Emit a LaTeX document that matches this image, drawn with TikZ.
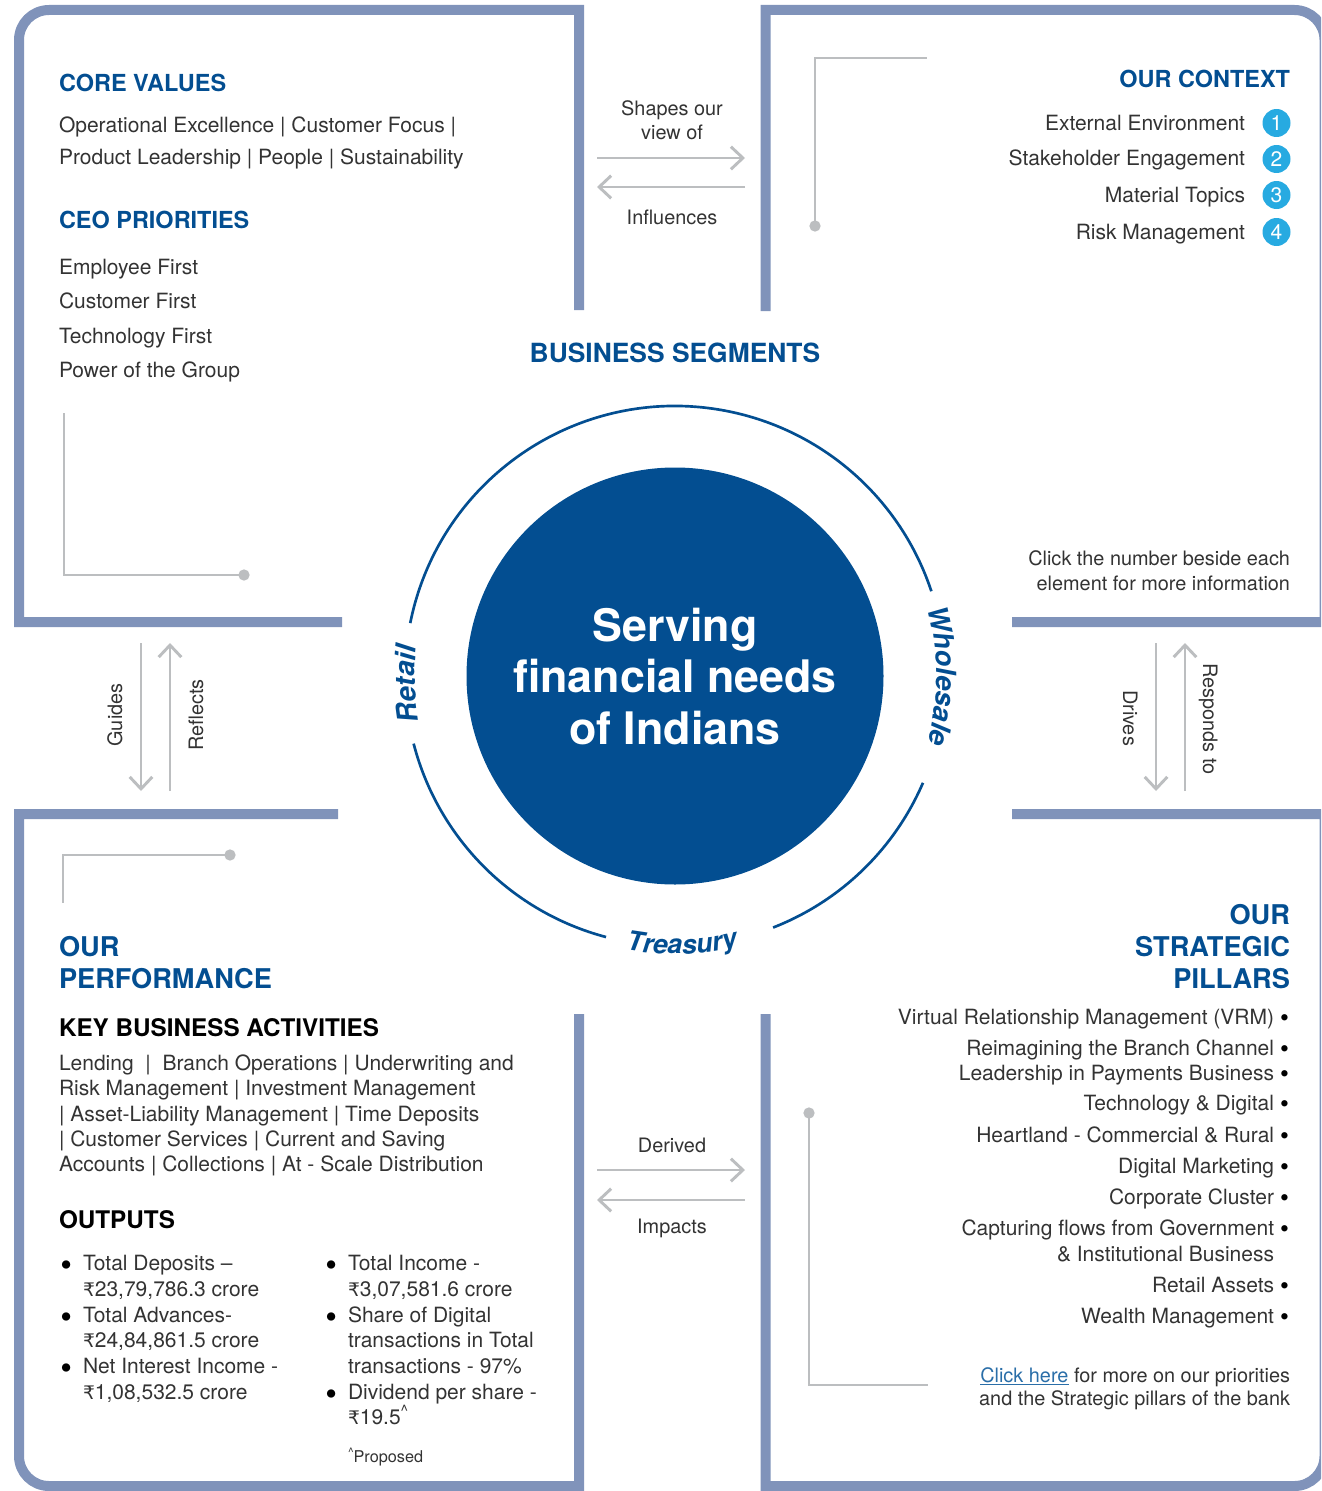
\documentclass[tikz,border=0pt]{standalone}
\usepackage{fontspec}
\setmainfont{TeX Gyre Heros}
\newfontfamily\rupeefamily{DejaVu Sans}
\usetikzlibrary{arrows.meta,decorations.text}
\definecolor{framec}{HTML}{8093BA}
\definecolor{bluec}{HTML}{034E91}
\definecolor{bodyc}{HTML}{333333}
\definecolor{greyc}{HTML}{BCBEC0}
\definecolor{badgec}{HTML}{27AAE1}
\definecolor{linkc}{HTML}{2A6EA8}
\newcommand{\rs}{{\rupeefamily\fontsize{14}{14}\selectfont ₹}}
\newcommand{\rb}{\makebox[11.2pt][r]{\textcolor{black}{\fontsize{19}{19}\selectfont\raisebox{-1.6pt}{•}}}}
\newcommand{\lb}[1]{\llap{\makebox[#1][l]{\textcolor{black}{\fontsize{25}{25}\selectfont\raisebox{-5pt}{•}}}}}
\newcommand{\bodyfont}{\fontsize{15.75}{19}\selectfont}
\newcommand{\smallfont}{\fontsize{14.9}{19}\selectfont}
\newcommand{\headfont}{\fontsize{17.6}{20}\selectfont\bfseries}
\newcommand{\blackfont}{\fontsize{18.2}{20}\selectfont\bfseries}
\newcommand{\bighead}{\fontsize{20.4}{24}\selectfont\bfseries}
\newcommand{\titlefont}{\fontsize{33.6}{38}\selectfont\bfseries}
\newcommand{\retailfont}{\fontsize{21}{21}\selectfont\bfseries\itshape}
\newcommand{\wholefont}{\fontsize{20.7}{20.7}\selectfont\bfseries\itshape}
\newcommand{\treasfont}{\fontsize{20.1}{20.1}\selectfont\bfseries\itshape}
\tikzset{
  x=0.75pt,y=-0.75pt,
  frame/.style={draw=framec,line width=7.5pt,line cap=butt},
  elbow/.style={draw=greyc,line width=2.2pt},
  dotend/.style={circle,fill=greyc,minimum size=8.5pt,inner sep=0pt},
  flow/.style={draw=greyc,line width=2.2pt,-{Straight Barb[length=9pt,width=17pt,line width=2.2pt]}},
  ringarc/.style={draw=bluec,line width=2pt},
  lft/.style={anchor=base west,inner sep=0pt,outer sep=0pt,text=bodyc,font=\bodyfont},
  rgt/.style={anchor=base east,inner sep=0pt,outer sep=0pt,text=bodyc,font=\bodyfont},
  ctr/.style={anchor=base,inner sep=0pt,outer sep=0pt,text=bodyc,font=\smallfont},
  bluehead/.style={text=bluec,font=\headfont},
  bighd/.style={text=bluec,font=\bighead},
  blackhead/.style={text=black,font=\blackfont},
  titleline/.style={anchor=base,inner sep=0pt,text=white,font=\titlefont},
  badge/.style={circle,fill=badgec,minimum size=21pt,inner sep=0pt,text=white,font=\bodyfont},
}
\begin{document}
\begin{tikzpicture}
\useasboundingbox (0,0) rectangle (1321,1491);
\clip (0,0) rectangle (1321,1491);
% frames: only the outer corner of each is rounded
\coordinate (f1a) at (579,310); \coordinate (f1b) at (579,10); \coordinate (f1c) at (49,10); \coordinate (f1d) at (19,622); \coordinate (f1e) at (342,622);
\draw[frame] (f1a) -- (f1b) -- (f1c) arc[start angle=90,end angle=180,radius=22.5pt] -- (f1d) -- (f1e);
\coordinate (f2a) at (765.5,311); \coordinate (f2b) at (765.5,10); \coordinate (f2c) at (1294.5,10); \coordinate (f2d) at (1324.5,622); \coordinate (f2e) at (1012,622);
\draw[frame] (f2a) -- (f2b) -- (f2c) arc[start angle=90,end angle=0,radius=22.5pt] -- (f2d) -- (f2e);
\coordinate (f3a) at (338,814); \coordinate (f3b) at (19,814); \coordinate (f3c) at (19,1456); \coordinate (f3d) at (579,1486); \coordinate (f3e) at (579,1014);
\draw[frame] (f3a) -- (f3b) -- (f3c) arc[start angle=180,end angle=270,radius=22.5pt] -- (f3d) -- (f3e);
\coordinate (f4a) at (1012,814); \coordinate (f4b) at (1324.5,814); \coordinate (f4c) at (1324.5,1456); \coordinate (f4d) at (765.5,1486); \coordinate (f4e) at (765.5,1014);
\draw[frame] (f4a) -- (f4b) -- (f4c) arc[start angle=0,end angle=-90,radius=22.5pt] -- (f4d) -- (f4e);
% elbows
\node[dotend] (dot1) at (815,226) {};
\coordinate (e1b) at (815,58); \coordinate (e1c) at (927,58);
\draw[elbow] (dot1.center) -- (e1b) -- (e1c);
\node[dotend] (dot2) at (244,575) {};
\coordinate (e2b) at (64,575); \coordinate (e2c) at (64,413);
\draw[elbow] (dot2.center) -- (e2b) -- (e2c);
\node[dotend] (dot3) at (230,855) {};
\coordinate (e3b) at (63,855); \coordinate (e3c) at (63,903);
\draw[elbow] (dot3.center) -- (e3b) -- (e3c);
\node[dotend] (dot4) at (809,1113) {};
\coordinate (e4b) at (809,1385); \coordinate (e4c) at (928,1385);
\draw[elbow] (dot4.center) -- (e4b) -- (e4c);
% flows
\coordinate (a1) at (597,158); \coordinate (a2) at (745,158); \coordinate (a3) at (745,187); \coordinate (a4) at (597,187);
\draw[flow] (a1) -- (a2); \draw[flow] (a3) -- (a4);
\coordinate (b1) at (597,1170); \coordinate (b2) at (745,1170); \coordinate (b3) at (745,1200); \coordinate (b4) at (597,1200);
\draw[flow] (b1) -- (b2); \draw[flow] (b3) -- (b4);
\coordinate (c1) at (141,643); \coordinate (c2) at (141,791); \coordinate (c3) at (170,791); \coordinate (c4) at (170,643);
\draw[flow] (c1) -- (c2); \draw[flow] (c3) -- (c4);
\coordinate (d1) at (1156,643); \coordinate (d2) at (1156,791); \coordinate (d3) at (1185,791); \coordinate (d4) at (1185,643);
\draw[flow] (d1) -- (d2); \draw[flow] (d3) -- (d4);
% flow labels
\node[ctr] (shapes1) at (672,116) {Shapes our};
\node[ctr] (shapes2) at (672,140) {view of};
\node[ctr] (infl) at (672,224) {Influences};
\node[ctr] (derived) at (672,1152) {Derived};
\node[ctr] (impacts) at (672,1233) {Impacts};
\node[ctr,rotate=90] (guides) at (122,715) {Guides};
\node[ctr,rotate=90] (reflects) at (203,715) {Reflects};
\node[ctr,rotate=-90] (drives) at (1123,718) {Drives};
\node[ctr,rotate=-90] (responds) at (1203,719) {Responds to};
% top-left
\node[lft,bluehead] (core) at (59,92) {CORE VALUES};
\node[lft] (cv1) at (59,133) {Operational Excellence | Customer Focus |};
\node[lft] (cv2) at (59,165) {Product Leadership | People | Sustainability};
\node[lft,bluehead] (ceo) at (59,228) {CEO PRIORITIES};
\node[lft] (p1) at (59,274) {Employee First};
\node[lft] (p2) at (59,308) {Customer First};
\node[lft] (p3) at (59,343) {Technology First};
\node[lft] (p4) at (59,377) {Power of the Group};
% top-right
\node[rgt,bluehead] (ctx) at (1290,88) {OUR CONTEXT};
\node[rgt] (c1t) at (1245,131) {External Environment};
\node[rgt] (c2t) at (1245,166) {Stakeholder Engagement};
\node[rgt] (c3t) at (1245,202) {Material Topics};
\node[rgt] (c4t) at (1245,239) {Risk Management};
\node[badge] (n1) at (1276.5,123) {1};
\node[badge] (n2) at (1276.5,159) {2};
\node[badge] (n3) at (1276.5,195) {3};
\node[badge] (n4) at (1276.5,232) {4};
\node[rgt,font=\smallfont] (clk1) at (1290,565) {Click the number beside each};
\node[rgt,font=\smallfont] (clk2) at (1290,590) {element for more information};
% centre
\node[anchor=base,inner sep=0pt,text=bluec,font=\fontsize{19.8}{24}\selectfont\bfseries] (seg) at (675,362) {BUSINESS SEGMENTS};
\node[circle,fill=bluec,minimum size=312.75pt,inner sep=0pt] (hub) at (675,676) {};
\node[titleline] (h1) at (675,641) {Serving};
\node[titleline] (h2) at (675,692) {financial needs};
\node[titleline] (h3) at (675,744) {of Indians};
\draw[ringarc] ([shift={(168.7:202.5pt)}]hub.center) arc[start angle=168.7,end angle=18.3,radius=202.5pt];
\draw[ringarc] ([shift={(194.5:202.5pt)}]hub.center) arc[start angle=194.5,end angle=255.2,radius=202.5pt];
\draw[ringarc] ([shift={(291.3:202.5pt)}]hub.center) arc[start angle=291.3,end angle=336.7,radius=202.5pt];
\path[decorate,decoration={text along path,text align={center},text color=bluec,text={|\retailfont|Retail}}] ([shift={(201.7:195pt)}]hub.center) arc[start angle=201.7,end angle=161.7,radius=195pt];
\path[decorate,decoration={text along path,text align={center},text color=bluec,text={|\wholefont|Wholesale}}] ([shift={(25:196pt)}]hub.center) arc[start angle=25,end angle=-25,radius=196pt];
\path[decorate,decoration={text along path,text align={center},text color=bluec,text={|\treasfont|Treasury}}] ([shift={(251.5:208.5pt)}]hub.center) arc[start angle=251.5,end angle=291.5,radius=208.5pt];
% bottom-left
\node[lft,bighd] (perf1) at (59,956) {OUR};
\node[lft,bighd] (perf2) at (59,988) {PERFORMANCE};
\node[lft,blackhead] (kba) at (59,1036) {KEY BUSINESS ACTIVITIES};
\node[lft] (k1) at (59,1070) {Lending\ \ |\ \ Branch Operations | Underwriting and};
\node[lft] (k2) at (59,1095) {Risk Management | Investment Management};
\node[lft] (k3) at (59,1121) {| Asset-Liability Management | Time Deposits};
\node[lft] (k4) at (59,1146) {| Customer Services | Current and Saving};
\node[lft] (k5) at (59,1171) {Accounts | Collections | At - Scale Distribution};
\node[lft,blackhead] (outp) at (59,1228) {OUTPUTS};
\node[lft] (o1) at (83,1270) {\lb{17pt}Total Deposits –};
\node[lft] (o2) at (83,1296) {\rs23,79,786.3 crore};
\node[lft] (o3) at (83,1322) {\lb{17pt}Total Advances-};
\node[lft] (o4) at (83,1347) {\rs24,84,861.5 crore};
\node[lft] (o5) at (83,1373) {\lb{17pt}Net Interest Income -};
\node[lft] (o6) at (83,1399) {\rs1,08,532.5 crore};
\node[lft] (q1) at (348,1270) {\lb{17pt}Total Income -};
\node[lft] (q2) at (348,1296) {\rs3,07,581.6 crore};
\node[lft] (q3) at (348,1322) {\lb{17pt}Share of Digital};
\node[lft] (q4) at (348,1347) {transactions in Total};
\node[lft] (q5) at (348,1373) {transactions - 97\%};
\node[lft] (q6) at (348,1399) {\lb{17pt}Dividend per share -};
\node[lft] (q7) at (348,1424) {\rs19.5\raisebox{0.7ex}{\fontsize{12}{12}\selectfont\textasciicircum}};
\node[lft,font=\fontsize{12.2}{14}\selectfont] (prop) at (348,1462) {\raisebox{0.7ex}{\fontsize{9}{9}\selectfont\textasciicircum}Proposed};
% bottom-right
\node[rgt,bighd] (st1) at (1290,924) {OUR};
\node[rgt,bighd] (st2) at (1290,956) {STRATEGIC};
\node[rgt,bighd] (st3) at (1290,988) {PILLARS};
\node[rgt] (s1) at (1289,1024) {Virtual Relationship Management (VRM)\rb};
\node[rgt] (s2) at (1289,1055) {Reimagining the Branch Channel\rb};
\node[rgt] (s3) at (1289,1080) {Leadership in Payments Business\rb};
\node[rgt] (s4) at (1289,1110) {Technology \& Digital\rb};
\node[rgt] (s5) at (1289,1142) {Heartland - Commercial \& Rural\rb};
\node[rgt] (s6) at (1289,1173) {Digital Marketing\rb};
\node[rgt] (s7) at (1289,1204) {Corporate Cluster\rb};
\node[rgt] (s8) at (1289,1235) {Capturing flows from Government\rb};
\node[rgt] (s9) at (1274,1261) {\& Institutional Business};
\node[rgt] (s10) at (1289,1292) {Retail Assets\rb};
\node[rgt] (s11) at (1289,1323) {Wealth Management\rb};
\node[rgt,font=\smallfont] (m1) at (1290,1382) {\textcolor{linkc}{\underline{Click here}} for more on our priorities};
\node[rgt,font=\smallfont] (m2) at (1290,1405) {and the Strategic pillars of the bank};
\end{tikzpicture}
\end{document}
